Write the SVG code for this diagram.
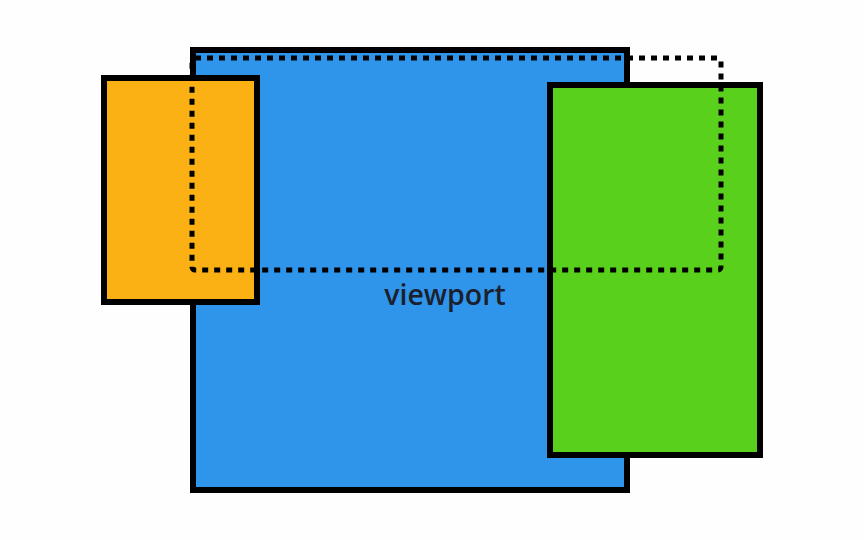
<svg xmlns="http://www.w3.org/2000/svg" width="864" height="540" viewBox="0 0 864 540">
<style>
.box{stroke:#000;stroke-width:6}
.dots{fill:none;stroke:#000;stroke-width:5;stroke-dasharray:6 6;stroke-linejoin:round}
.lbl{font-family:"Open Sans",Lato,sans-serif;font-weight:600;font-size:28.5px;fill:#1b1f2e}
</style>
<rect width="864" height="540" fill="#fefefe"/>
<g id="viewport">
<rect class="box" x="193" y="50" width="434" height="440" fill="#2f95ea"/>
<text class="lbl" x="445" y="304.5" text-anchor="middle">viewport</text>
</g>
<g id="orange">
<rect class="box" x="104" y="78" width="153" height="224" fill="#fbb114"/>
</g>
<g id="green">
<rect class="box" x="550" y="85" width="210" height="370" fill="#59d11c"/>
</g>
<g id="dotted">
<rect class="dots" x="192" y="58" width="529" height="212" rx="3"/>
</g>
</svg>
